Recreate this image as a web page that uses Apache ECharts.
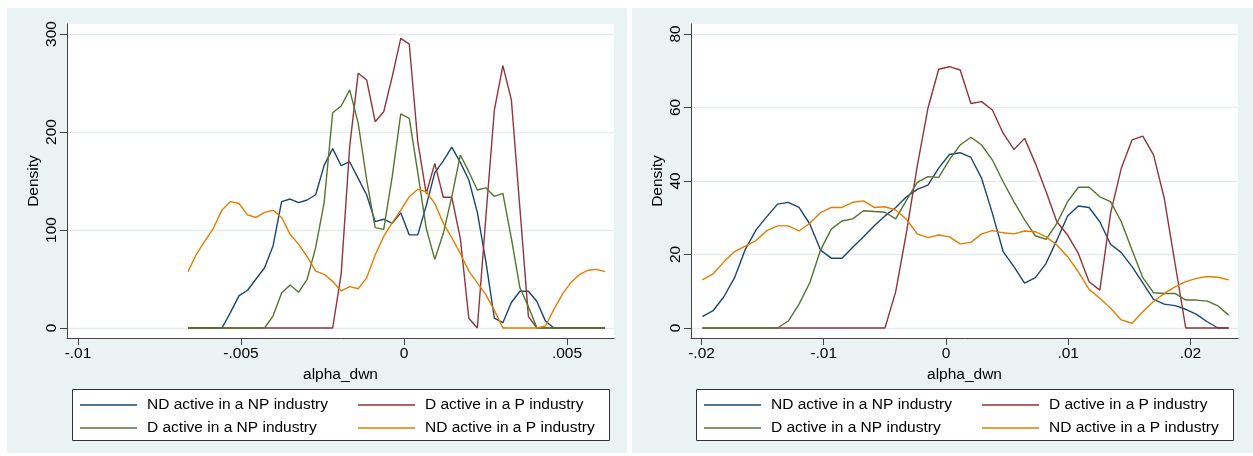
<!DOCTYPE html>
<html>
<head>
<meta charset="utf-8">
<script src="https://cdn.jsdelivr.net/npm/echarts@6/dist/echarts.min.js"></script>
<style>html,body{margin:0;padding:0;background:#fff}#c{width:1253px;height:456px}</style>
</head>
<body>
<div id="c"></div>
<script>
// ---- data ----
const seriesNames = ['ND active in a NP industry', 'D active in a P industry', 'D active in a NP industry', 'ND active in a P industry'];
const seriesColors = ['#1a476f', '#90353b', '#55752f', '#e37e00'];

// left panel: evaluation points (alpha_dwn)
const xLeft = [-0.006626,-0.006365,-0.006104,-0.005843,-0.005582,-0.005321,-0.005060,-0.004799,-0.004538,-0.004276,
  -0.004015,-0.003754,-0.003493,-0.003232,-0.002971,-0.002710,-0.002449,-0.002188,-0.001927,-0.001666,
  -0.001405,-0.001144,-0.000883,-0.000622,-0.000361,-0.000099,0.000162,0.000423,0.000684,0.000945,
  0.001206,0.001467,0.001728,0.001989,0.002250,0.002511,0.002772,0.003033,0.003294,0.003556,
  0.003817,0.004078,0.004339,0.004600,0.004861,0.005122,0.005383,0.005644,0.005905,0.006166];
const leftNDNP = [0,0,0,0,0,16,33,38.5,50,61.5,
  84,129,131.6,128,130.6,136,166,183,165.6,169.7,
  152.7,135.7,108.5,111,106.8,117.5,95,95,125,158.5,
  170.5,184.5,169,151,118,68,10,5.4,26,37.5,
  37.5,27,7,0,0,0,0,0,0,0];
const leftDP = [0,0,0,0,0,0,0,0,0,0,
  0,0,0,0,0,0,0,0,55,185,
  260,253,210.5,220.7,256.5,295.6,289.6,190,137.2,168,
  133.4,133.4,91.5,10,0,113,222.4,267.7,232.7,122,
  11.6,0,0,0,0,0,0,0,0,0];
const leftDNP = [0,0,0,0,0,0,0,0,0,0,
  12.4,35.6,43.9,36.4,49.7,82,128,219.7,226.5,243,
  209,151,102.4,100.7,154.4,218.4,214,158.5,101.5,70,
  96.6,134,176.5,159.5,140.8,143,134.3,137.4,91.5,41,
  21.8,0,0,0,0,0,0,0,0,0];
const leftNDP = [57.5,75.5,89,102,120.5,129,127,115.5,112.8,118,
  120.2,112.8,95.6,85.3,72.8,58,54.8,47.6,37.8,42.2,
  40,51.2,74.5,93.5,107.5,120,134,141.5,139,127,
  107,92,76,58,46,34,18,0,0,0,
  0,0,2,19,34.5,46.5,54.5,59,59.8,57.5];

// right panel
const xRight = [-0.019930,-0.019051,-0.018172,-0.017294,-0.016415,-0.015536,-0.014657,-0.013778,-0.012900,-0.012021,
  -0.011142,-0.010263,-0.009384,-0.008506,-0.007627,-0.006748,-0.005869,-0.004990,-0.004112,-0.003233,
  -0.002354,-0.001475,-0.000596,0.000282,0.001161,0.002040,0.002919,0.003798,0.004676,0.005555,
  0.006434,0.007313,0.008192,0.009070,0.009949,0.010828,0.011707,0.012586,0.013464,0.014343,
  0.015222,0.016101,0.016980,0.017858,0.018737,0.019616,0.020495,0.021374,0.022252,0.023131];
const rightNDNP = [3.1,4.7,8.5,13.7,21.4,26.7,30.3,33.7,34.2,32.8,
  28.3,21.2,19,19,22,24.8,27.8,30.5,32.8,35.7,
  37.7,38.9,43.5,47.2,47.7,46.4,40.7,31.2,20.8,16.7,
  12.2,13.7,17.6,23.9,30.5,33.2,32.8,28.9,22.8,20.5,
  16.7,12.3,7.8,6.5,6.1,5.1,3.7,1.7,0,0];
const rightDP = [0,0,0,0,0,0,0,0,0,0,
  0,0,0,0,0,0,0,0,9.9,26,
  44,59.8,70.4,71.1,70.2,61.1,61.6,59.3,53,48.6,
  51.6,44.8,37.1,28.9,25.3,20.3,12.6,10.3,31.2,43.5,
  51.2,52.2,47.1,35.3,17.6,0,0,0,0,0];
const rightDNP = [0,0,0,0,0,0,0,0,1.9,6.5,
  12.3,21.2,26.9,29.1,29.7,31.9,31.7,31.5,29.7,34.8,
  39.6,41.2,41,45.8,49.8,51.9,49.8,45.7,39.8,34.4,
  29.4,25.1,24.1,28.5,34.4,38.3,38.3,35.7,34.4,28.9,
  21.2,13.7,9.6,9.4,9.4,7.6,7.6,7.3,6,3.5];
const rightNDP = [13.1,14.7,18,20.8,22.3,23.8,26.5,27.8,27.8,26.4,
  28.5,31.4,32.8,32.8,34.2,34.6,32.8,33,32.1,29.6,
  25.6,24.6,25.3,24.8,22.9,23.3,25.6,26.5,25.9,25.6,
  26.4,26.2,24.8,22.6,19.4,15.3,10.5,8.1,5.4,2.2,
  1.3,4.4,7.2,9.4,11.2,12.6,13.5,14,13.8,13.1];

// tick labels
const leftXTicks = [-0.01, -0.005, 0, 0.005];
const leftXTickLabels = ['-.01', '-.005', '0', '.005'];
const leftYTicks = [0, 100, 200, 300];
const rightXTicks = [-0.02, -0.01, 0, 0.01, 0.02];
const rightXTickLabels = ['-.02', '-.01', '0', '.01', '.02'];
const rightYTicks = [0, 20, 40, 60, 80];

// ---- chart ----
const FONT = 'Liberation Sans, Arial, Helvetica, sans-serif';
const FS = 15.5;
const AX = '#444';
const GRIDC = '#e4ecef';

function labelFor(ticks, labels) {
  return function (v) {
    for (let i = 0; i < ticks.length; i++) if (Math.abs(ticks[i] - v) < 1e-9) return labels[i];
    return '';
  };
}
function xAxis(gridIndex, min, max, ticks, labels) {
  return {
    type: 'value', gridIndex, min, max,
    name: 'alpha_dwn', nameLocation: 'middle', nameGap: 27,
    nameTextStyle: { fontFamily: FONT, fontSize: FS, color: '#000' },
    axisLine: { show: true, onZero: false, lineStyle: { color: AX, width: 1 } },
    axisTick: { show: true, inside: false, length: 7, customValues: ticks, lineStyle: { color: AX, width: 1 } },
    axisLabel: { customValues: ticks, formatter: labelFor(ticks, labels), margin: 8, fontFamily: FONT, fontSize: FS, color: '#000' },
    splitLine: { show: false }
  };
}
function yAxis(gridIndex, min, max, ticks) {
  return {
    type: 'value', gridIndex, min, max,
    name: 'Density', nameLocation: 'middle', nameGap: 25,
    nameTextStyle: { fontFamily: FONT, fontSize: FS, color: '#000' },
    axisLine: { show: true, onZero: false, lineStyle: { color: AX, width: 1 } },
    axisTick: { show: true, inside: false, length: 7, customValues: ticks, lineStyle: { color: AX, width: 1 } },
    axisLabel: { customValues: ticks, rotate: 90, margin: 7, fontFamily: FONT, fontSize: FS, color: '#000',
      formatter: v => String(v) },
    splitLine: { show: true, lineStyle: { color: GRIDC, width: 1.3 } }
  };
}
function mk(xs, ys) { return xs.map((x, i) => [x, ys[i]]); }
const leftSets = [leftNDNP, leftDP, leftDNP, leftNDP];
const rightSets = [rightNDNP, rightDP, rightDNP, rightNDP];
const series = [];
leftSets.forEach((d, k) => series.push({
  type: 'line', name: seriesNames[k], xAxisIndex: 0, yAxisIndex: 0, data: mk(xLeft, d),
  symbol: 'none', showSymbol: false, lineStyle: { color: seriesColors[k], width: 1.4 }, itemStyle: { color: seriesColors[k] }
}));
rightSets.forEach((d, k) => series.push({
  type: 'line', name: seriesNames[k], xAxisIndex: 1, yAxisIndex: 1, data: mk(xRight, d),
  symbol: 'none', showSymbol: false, lineStyle: { color: seriesColors[k], width: 1.4 }, itemStyle: { color: seriesColors[k] }
}));

function legend(left, names) {
  return {
    orient: 'vertical', left, top: 396.5, padding: 0, itemGap: 6,
    icon: 'rect', itemWidth: 57, itemHeight: 1.6,
    data: names, selectedMode: false,
    textStyle: { fontFamily: FONT, fontSize: FS, color: '#000', lineHeight: 17, padding: [0, 0, 0, 5] }
  };
}

const chart = echarts.init(document.getElementById('c'), null, { renderer: 'canvas' });
chart.setOption({
  animation: false,
  backgroundColor: '#ffffff',
  graphic: [
    { type: 'rect', z: -10, shape: { x: 7, y: 8, width: 620, height: 445 }, style: { fill: '#eaf2f3' }, silent: true },
    { type: 'rect', z: -10, shape: { x: 632, y: 8, width: 621, height: 445 }, style: { fill: '#eaf2f3' }, silent: true },
    { type: 'rect', z: 1, shape: { x: 72.5, y: 389.5, width: 537, height: 51 }, style: { fill: '#fff', stroke: '#333', lineWidth: 1 }, silent: true },
    { type: 'rect', z: 1, shape: { x: 696.5, y: 389.5, width: 537, height: 51 }, style: { fill: '#fff', stroke: '#333', lineWidth: 1 }, silent: true }
  ],
  grid: [
    { left: 67, top: 24, width: 547, height: 314, show: true, backgroundColor: '#fff', borderWidth: 0, containLabel: false },
    { left: 691, top: 24, width: 547, height: 314, show: true, backgroundColor: '#fff', borderWidth: 0, containLabel: false }
  ],
  xAxis: [
    xAxis(0, -0.010337, 0.006442, leftXTicks, leftXTickLabels),
    xAxis(1, -0.02086, 0.02389, rightXTicks, rightXTickLabels)
  ],
  yAxis: [
    yAxis(0, -10.2, 310.2, leftYTicks),
    yAxis(1, -2.72, 82.72, rightYTicks)
  ],
  legend: [
    legend(80, [seriesNames[0], seriesNames[2]]),
    legend(358, [seriesNames[1], seriesNames[3]]),
    legend(704, [seriesNames[0], seriesNames[2]]),
    legend(982, [seriesNames[1], seriesNames[3]])
  ],
  series
});
</script>
</body>
</html>
